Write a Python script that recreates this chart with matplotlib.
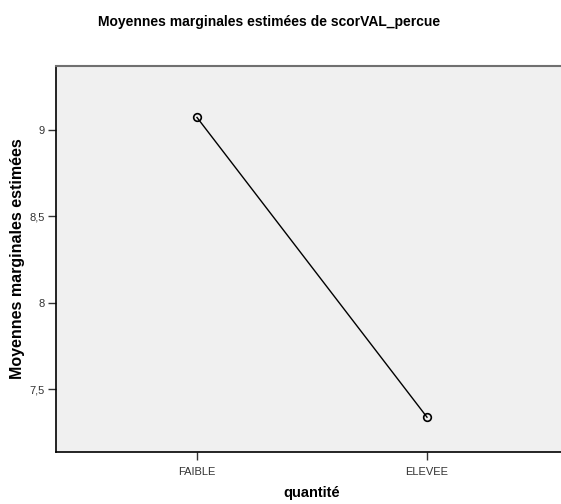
import matplotlib
matplotlib.use("Agg")
import matplotlib.pyplot as plt

categories = ["FAIBLE", "ELEVEE"]
means = [9.07, 7.34]
yticks = [7.5, 8.0, 8.5, 9.0]
ytick_labels = ["7,5", "8", "8,5", "9"]

plt.rcParams["font.family"] = ["Liberation Sans", "DejaVu Sans"]

W, H = 561, 504
fig = plt.figure(figsize=(W / 100, H / 100), dpi=100)
# axes extend a bit past the right edge, like the cropped SPSS output
ax = fig.add_axes([56 / W, 1 - 452 / H, (568 - 56) / W, (452 - 66) / H])
ax.set_facecolor("#f0f0f0")

x = list(range(len(categories)))
ax.plot(x, means, color="black", lw=1.0, marker="o", ms=5.5,
        mfc="none", mec="black", mew=1.2)

ax.set_xlim(-0.613, 1.613)
ax.set_ylim(7.139, 9.367)
ax.set_xticks(x)
ax.set_xticklabels(categories, fontsize=8)
ax.set_yticks(yticks)
ax.set_yticklabels(ytick_labels, fontsize=8)
ax.tick_params(axis="both", direction="out", length=6, width=1, colors="#333333")
ax.tick_params(axis="y", pad=2)
ax.tick_params(axis="x", pad=5)

for side in ["left", "bottom"]:
    ax.spines[side].set_color("black")
    ax.spines[side].set_linewidth(1.2)
ax.spines["top"].set_color("#707070")
ax.spines["top"].set_linewidth(1.5)
ax.spines["right"].set_visible(False)

fig.text(269 / W, 1 - 22 / H, "Moyennes marginales estimées de scorVAL_percue",
         ha="center", va="center", fontsize=10, fontweight="bold")
fig.text(18 / W, 1 - 259 / H, "Moyennes marginales estimées",
         ha="center", va="center", rotation=90, fontsize=11.5, fontweight="bold")
fig.text(312 / W, 1 - 493 / H, "quantité",
         ha="center", va="center", fontsize=10.5, fontweight="bold")

fig.savefig("out.png", dpi=100)
